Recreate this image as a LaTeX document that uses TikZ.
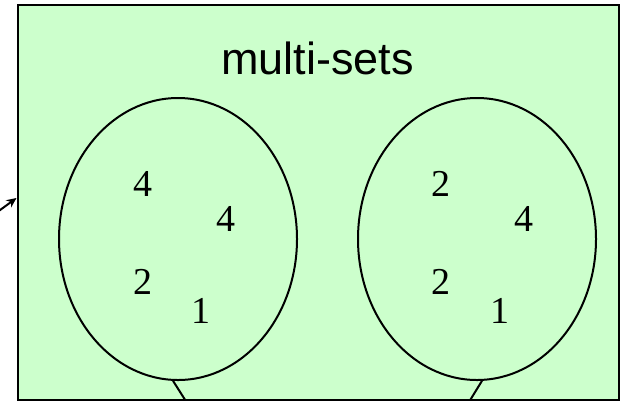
\documentclass[tikz,border=0pt]{standalone}
\usepackage{fontspec}
\setmainfont{Liberation Serif}
\setsansfont{Liberation Sans}
\usetikzlibrary{shapes.geometric,arrows.meta}
\definecolor{setgreen}{HTML}{CCFFCC}
\begin{document}
\begin{tikzpicture}[x=1pt,y=-1pt,
  setellipse/.style={draw=black,line width=2pt,ellipse,minimum width=238pt,minimum height=282pt,inner sep=0pt},
  elem/.style={font=\fontsize{38}{38}\selectfont,anchor=base,inner sep=0pt},
  conn/.style={draw=black,line width=2pt}]
\useasboundingbox (0,0) rectangle (620,400);
\begin{scope}
\clip (0,0) rectangle (620,400);
\node[draw=black,fill=setgreen,line width=2.6pt,minimum width=601pt,minimum height=395pt,inner sep=0pt,anchor=north west] (box) at (16.5,3.5) {};
\node[font=\sffamily\fontsize{45}{45}\selectfont,anchor=base,inner sep=0pt] (title) at (317.5,74) {multi-sets};
\node[setellipse] (L) at (178,239) {};
\node[setellipse] (R) at (477,239) {};
\node[elem] (l1) at (143,196) {4};
\node[elem] (l2) at (225.5,231.5) {4};
\node[elem] (l3) at (143,294) {2};
\node[elem] (l4) at (200.5,323) {1};
\node[elem] (r1) at (441,196) {2};
\node[elem] (r2) at (524,231.5) {4};
\node[elem] (r3) at (441,294) {2};
\node[elem] (r4) at (500,323) {1};
\coordinate (lend) at (189,406);
\coordinate (rend) at (466.5,406);
\coordinate (atail) at (-4,213);
\draw[conn] (L.268.8) -- (lend);
\draw[conn] (R.272) -- (rend);
\draw[conn,-{Stealth[length=10pt,width=9pt]}] (atail) -- (box.west |- 0,198);
\end{scope}
\end{tikzpicture}
\end{document}
